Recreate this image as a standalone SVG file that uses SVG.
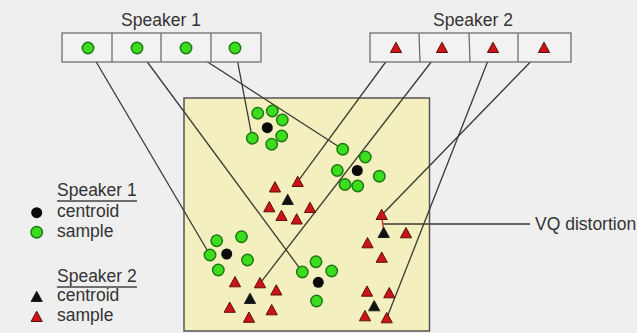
<svg xmlns="http://www.w3.org/2000/svg" xmlns:xlink="http://www.w3.org/1999/xlink" width="637" height="333" viewBox="0 0 637 333">
  <style>
    .lbl { font-family: "Liberation Sans", Arial, sans-serif; font-size: 17.5px; fill: #333333; }
    .box { fill: #f2f2f2; stroke: #6e6e6e; stroke-width: 1.3; }
    .div { stroke: #6e6e6e; stroke-width: 1.3; }
    .link { stroke: #3a3a30; stroke-width: 1.3; fill: none; }
    .ul { stroke: #444444; stroke-width: 1.4; }
  </style>
  <defs>
    <circle id="s1" r="5.7" fill="#3cdc1e" stroke="#1d7a12" stroke-width="1.5"/>
    <circle id="c1" r="5.5" fill="#0a0a0a"/>
    <path id="s2" d="M0,-5.8 L5.6,4.5 L-5.6,4.5 Z" fill="#cc1414" stroke="#5a1010" stroke-width="1"/>
    <path id="c2" d="M0,-5.8 L5.6,4.5 L-5.6,4.5 Z" fill="#111111" stroke="#222222" stroke-width="1"/>
  </defs>

  <rect width="637" height="333" fill="#efefef"/>

  <!-- feature space -->
  <g id="space">
    <rect x="184" y="98" width="245.5" height="233" fill="#f4efbf" stroke="#555555" stroke-width="1.5"/>
  </g>

  <!-- codebook connectors and distortion leader -->
  <g id="connectors">
    <line class="link" x1="88" y1="48" x2="210" y2="255"/>
    <line class="link" x1="137" y1="48" x2="302.7" y2="272.3"/>
    <line class="link" x1="186" y1="48" x2="342.7" y2="149.3"/>
    <line class="link" x1="235" y1="48" x2="252.3" y2="138.3"/>
    <line class="link" x1="396" y1="48" x2="297.7" y2="181.7"/>
    <line class="link" x1="442" y1="48" x2="260" y2="283.3"/>
    <line class="link" x1="493" y1="48" x2="386.7" y2="318.3"/>
    <line class="link" x1="544" y1="48" x2="381.7" y2="215"/>
    <line class="link" x1="383" y1="224" x2="530" y2="224"/>
    <line x1="382" y1="219" x2="383.5" y2="229" stroke="#cc3322" stroke-width="1.5"/>
  </g>

  <!-- speaker 1 codebook -->
  <g id="codebook1">
    <text class="lbl" x="161" y="26" text-anchor="middle">Speaker 1</text>
    <rect class="box" x="62" y="33" width="199" height="29"/>
    <line class="div" x1="112" y1="33" x2="112" y2="62"/>
    <line class="div" x1="161" y1="33" x2="161" y2="62"/>
    <line class="div" x1="211" y1="33" x2="211" y2="62"/>
    <use xlink:href="#s1" x="88" y="48"/>
    <use xlink:href="#s1" x="137" y="48"/>
    <use xlink:href="#s1" x="186" y="48"/>
    <use xlink:href="#s1" x="235" y="48"/>
  </g>

  <!-- speaker 2 codebook -->
  <g id="codebook2">
    <text class="lbl" x="473" y="26" text-anchor="middle">Speaker 2</text>
    <rect class="box" x="370" y="33" width="201" height="29"/>
    <line class="div" x1="419" y1="33" x2="420" y2="62"/>
    <line class="div" x1="469" y1="33" x2="470" y2="62"/>
    <line class="div" x1="518" y1="33" x2="518" y2="62"/>
    <use xlink:href="#s2" x="396" y="48"/>
    <use xlink:href="#s2" x="442" y="48"/>
    <use xlink:href="#s2" x="493" y="48"/>
    <use xlink:href="#s2" x="544" y="48"/>
  </g>

  <!-- speaker 1 clusters -->
  <g id="cluster-a">
    <use xlink:href="#s1" x="257.7" y="113.3"/>
    <use xlink:href="#s1" x="272.3" y="111"/>
    <use xlink:href="#s1" x="282.3" y="120"/>
    <use xlink:href="#s1" x="252.3" y="138.3"/>
    <use xlink:href="#s1" x="281.7" y="136"/>
    <use xlink:href="#s1" x="271.7" y="144.3"/>
    <use xlink:href="#c1" x="267.3" y="127.7"/>
  </g>
  <g id="cluster-b">
    <use xlink:href="#s1" x="342.7" y="149.3"/>
    <use xlink:href="#s1" x="365.3" y="157"/>
    <use xlink:href="#s1" x="337.3" y="170.5"/>
    <use xlink:href="#s1" x="379.3" y="176.3"/>
    <use xlink:href="#s1" x="345" y="184.5"/>
    <use xlink:href="#s1" x="357.7" y="186"/>
    <use xlink:href="#c1" x="357.3" y="170.5"/>
  </g>
  <g id="cluster-c">
    <use xlink:href="#s1" x="216.7" y="240.7"/>
    <use xlink:href="#s1" x="241.5" y="236.7"/>
    <use xlink:href="#s1" x="210" y="255"/>
    <use xlink:href="#s1" x="247.5" y="260"/>
    <use xlink:href="#s1" x="218.3" y="270"/>
    <use xlink:href="#c1" x="226.7" y="254"/>
  </g>
  <g id="cluster-d">
    <use xlink:href="#s1" x="302.3" y="272"/>
    <use xlink:href="#s1" x="316" y="261.7"/>
    <use xlink:href="#s1" x="331.7" y="271"/>
    <use xlink:href="#s1" x="316.5" y="301"/>
    <use xlink:href="#c1" x="318.3" y="282.3"/>
  </g>

  <!-- speaker 2 clusters -->
  <g id="cluster-e">
    <use xlink:href="#s2" x="275" y="187.5"/>
    <use xlink:href="#s2" x="297.7" y="182"/>
    <use xlink:href="#s2" x="269.3" y="207.3"/>
    <use xlink:href="#s2" x="310" y="208"/>
    <use xlink:href="#s2" x="281.5" y="216"/>
    <use xlink:href="#s2" x="296.7" y="219.5"/>
    <use xlink:href="#c2" x="287.7" y="200"/>
  </g>
  <g id="cluster-f">
    <use xlink:href="#s2" x="235" y="282.3"/>
    <use xlink:href="#s2" x="260" y="283.3"/>
    <use xlink:href="#s2" x="276.3" y="290.5"/>
    <use xlink:href="#s2" x="229.7" y="307.8"/>
    <use xlink:href="#s2" x="271.7" y="310.3"/>
    <use xlink:href="#s2" x="249" y="317.8"/>
    <use xlink:href="#c2" x="250" y="299"/>
  </g>
  <g id="cluster-g">
    <use xlink:href="#s2" x="381.7" y="215"/>
    <use xlink:href="#s2" x="406" y="233.3"/>
    <use xlink:href="#s2" x="367.5" y="243.3"/>
    <use xlink:href="#s2" x="381.7" y="257.8"/>
    <use xlink:href="#c2" x="383.7" y="233"/>
  </g>
  <g id="cluster-h">
    <use xlink:href="#s2" x="367" y="291.7"/>
    <use xlink:href="#s2" x="389.3" y="293.3"/>
    <use xlink:href="#s2" x="365" y="316.3"/>
    <use xlink:href="#s2" x="386.7" y="318.3"/>
    <use xlink:href="#c2" x="374.2" y="306.3"/>
  </g>

  <!-- distortion label -->
  <g id="vq-label">
    <text class="lbl" x="535" y="230">VQ distortion</text>
  </g>

  <!-- legend -->
  <g id="legend">
    <text class="lbl" x="57" y="196">Speaker 1</text>
    <line class="ul" x1="57" y1="201" x2="137" y2="201"/>
    <use xlink:href="#c1" x="36.7" y="212.7"/>
    <text class="lbl" x="57" y="217">centroid</text>
    <use xlink:href="#s1" x="36.7" y="232.3"/>
    <text class="lbl" x="57" y="237">sample</text>
    <text class="lbl" x="57" y="282">Speaker 2</text>
    <line class="ul" x1="57" y1="287" x2="137" y2="287"/>
    <use xlink:href="#c2" x="36.7" y="297"/>
    <text class="lbl" x="57" y="301">centroid</text>
    <use xlink:href="#s2" x="36.7" y="317"/>
    <text class="lbl" x="57" y="321">sample</text>
  </g>
</svg>
